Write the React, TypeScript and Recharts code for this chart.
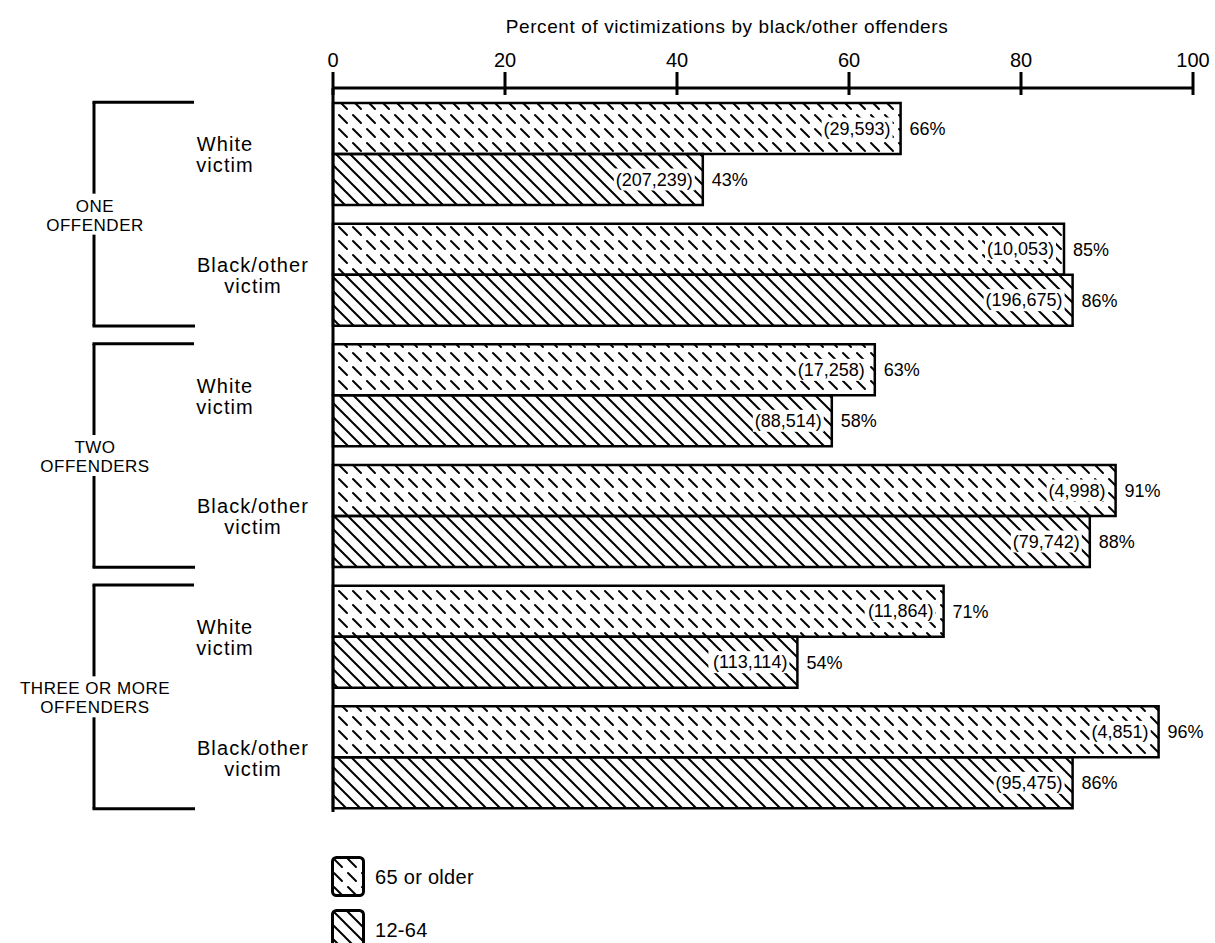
import { Bar, BarChart, LabelList, Legend, XAxis, YAxis } from 'recharts'

const FONT = '"Liberation Sans", Arial, Helvetica, sans-serif'

// one row per victim group, top to bottom
const rowKeys = ['one-white', 'one-black', 'two-white', 'two-black', 'three-white', 'three-black']
const victimLines = [
  ['White', 'victim'],
  ['Black/other', 'victim'],
]
const offenderLines = [
  ['ONE', 'OFFENDER'],
  ['TWO', 'OFFENDERS'],
  ['THREE OR MORE', 'OFFENDERS'],
]
const olderPct = [66, 85, 63, 91, 71, 96]
const youngerPct = [43, 86, 58, 88, 54, 86]
const olderCount = ['29,593', '10,053', '17,258', '4,998', '11,864', '4,851']
const youngerCount = ['207,239', '196,675', '88,514', '79,742', '113,114', '95,475']
const seriesNames = ['65 or older', '12-64']
const xTicks = [0, 20, 40, 60, 80, 100]

const data = rowKeys.map((key, i) => ({
  key,
  older: olderPct[i],
  younger: youngerPct[i],
  olderCount: olderCount[i],
  youngerCount: youngerCount[i],
}))

const BAR = 51

const XTick = (props: any) => {
  const { x, y, payload } = props
  return (
    <g>
      <line x1={x} x2={x} y1={y - 16} y2={y + 7} stroke="#000" strokeWidth={3} />
      <text x={x} y={y - 21} textAnchor="middle" fontSize={20} fill="#000" fontFamily={FONT}>
        {payload.value}
      </text>
    </g>
  )
}

const YTick = (props: any) => {
  const { y, payload } = props
  const i: number = payload?.index ?? props.index ?? 0
  const half: number = payload?.offset || 60.3
  const lines = victimLines[i % 2]
  const cx = i % 2 === 0 ? 225 : 253
  const group = offenderLines[Math.floor(i / 2)]
  const bx = 94
  let bracket
  if (i % 2 === 0) {
    const b = y + half
    bracket = (
      <g>
        <line x1={bx - 1.5} x2={194} y1={y - 52} y2={y - 52} stroke="#000" strokeWidth={3} />
        <line x1={bx} x2={bx} y1={y - 52} y2={b - 21} stroke="#000" strokeWidth={3} />
        <text x={bx + 1} y={b - 3} textAnchor="middle" fontSize={17} letterSpacing={0.5} fill="#000">
          {group[0]}
        </text>
        <text x={bx + 1} y={b + 16} textAnchor="middle" fontSize={17} letterSpacing={0.5} fill="#000">
          {group[1]}
        </text>
      </g>
    )
  } else {
    const b = y - half
    bracket = (
      <g>
        <line x1={bx} x2={bx} y1={b + 20} y2={y + 51} stroke="#000" strokeWidth={3} />
        <line x1={bx - 1.5} x2={195} y1={y + 51} y2={y + 51} stroke="#000" strokeWidth={3} />
      </g>
    )
  }
  return (
    <g fontFamily={FONT}>
      {bracket}
      <text x={cx} y={y - 3} textAnchor="middle" fontSize={20} letterSpacing={1.1} fill="#000">
        {lines[0]}
      </text>
      <text x={cx} y={y + 18} textAnchor="middle" fontSize={20} letterSpacing={1.1} fill="#000">
        {lines[1]}
      </text>
    </g>
  )
}

const textWidth = (s: string) =>
  s.split('').reduce((w, c) => w + (c === ',' ? 5 : c === '(' || c === ')' ? 6 : 10), 0)

const CountLabel = (props: any) => {
  const { x, y, width, height, value } = props
  const label = `(${value})`
  const right = x + width - 10
  const w = textWidth(label)
  const cy = y + height / 2
  return (
    <g>
      <rect x={right - w - 2} y={cy - 11} width={w + 4} height={22} fill="#fff" />
      <text x={right} y={cy} textAnchor="end" dominantBaseline="central" fontSize={18} fill="#000" fontFamily={FONT}>
        {label}
      </text>
    </g>
  )
}

const AxisTitle = () => (
  <text x={727} y={33} textAnchor="middle" fontSize={19} letterSpacing={0.6} fill="#000" fontFamily={FONT}>
    Percent of victimizations by black/other offenders
  </text>
)

const LegendBox = () => (
  <div style={{ fontFamily: FONT }}>
    {seriesNames.map((name, i) => (
      <div key={name} style={{ display: 'flex', alignItems: 'center', height: 42, marginBottom: 11 }}>
        <svg width={36} height={42}>
          <rect
            x={1.5}
            y={1.5}
            width={31}
            height={38}
            rx={4}
            fill={i === 0 ? 'url(#hatchDash)' : 'url(#hatchSolid)'}
            stroke="#000"
            strokeWidth={3}
          />
        </svg>
        <span style={{ marginLeft: 8, fontSize: 20, letterSpacing: 0.3, color: '#000' }}>{name}</span>
      </div>
    ))}
  </div>
)

export default function App() {
  return (
    <div>
      <style>{'body{margin:0;background:#fff}'}</style>
      <BarChart
        width={1215}
        height={943}
        data={data}
        layout="vertical"
        margin={{ top: 0, right: 22, bottom: 131, left: 0 }}
        barGap={0}
        barSize={BAR}
        style={{ fontFamily: FONT }}
      >
        <defs>
          <pattern id="hatchSolid" patternUnits="userSpaceOnUse" width={14} height={14}>
            <path d="M-3,-3 L17,17 M-10,4 L10,24 M4,-10 L24,10" stroke="#000" strokeWidth={2} />
          </pattern>
          <pattern id="hatchDash" patternUnits="userSpaceOnUse" width={14} height={14}>
            <path d="M3,3 L11,11" stroke="#000" strokeWidth={2} strokeLinecap="round" />
          </pattern>
        </defs>
        <XAxis
          type="number"
          orientation="top"
          domain={[0, 100]}
          ticks={xTicks}
          interval={0}
          height={88}
          axisLine={{ stroke: '#000', strokeWidth: 3 }}
          tickLine={false}
          tickSize={0}
          tickMargin={0}
          tick={(p: any) => <XTick {...p} />}
          label={<AxisTitle />}
        />
        <YAxis
          type="category"
          dataKey="key"
          width={333}
          interval={0}
          padding={{ top: 6, bottom: -6 }}
          axisLine={{ stroke: '#000', strokeWidth: 3 }}
          tickLine={false}
          tickSize={0}
          tickMargin={0}
          tick={(p: any) => <YTick {...p} />}
        />
        <Legend
          layout="vertical"
          align="center"
          verticalAlign="middle"
          wrapperStyle={{ left: 331, top: 856, width: 300 }}
          content={() => <LegendBox />}
        />
        <Bar dataKey="older" name={seriesNames[0]} fill="url(#hatchDash)" stroke="#000" strokeWidth={2.5} isAnimationActive={false}>
          <LabelList dataKey="olderCount" content={(p: any) => <CountLabel {...p} />} />
          <LabelList dataKey="older" position="right" offset={9} fontSize={18} fill="#000" formatter={(v: any) => `${v}%`} />
        </Bar>
        <Bar dataKey="younger" name={seriesNames[1]} fill="url(#hatchSolid)" stroke="#000" strokeWidth={2.5} isAnimationActive={false}>
          <LabelList dataKey="youngerCount" content={(p: any) => <CountLabel {...p} />} />
          <LabelList dataKey="younger" position="right" offset={9} fontSize={18} fill="#000" formatter={(v: any) => `${v}%`} />
        </Bar>
      </BarChart>
    </div>
  )
}
